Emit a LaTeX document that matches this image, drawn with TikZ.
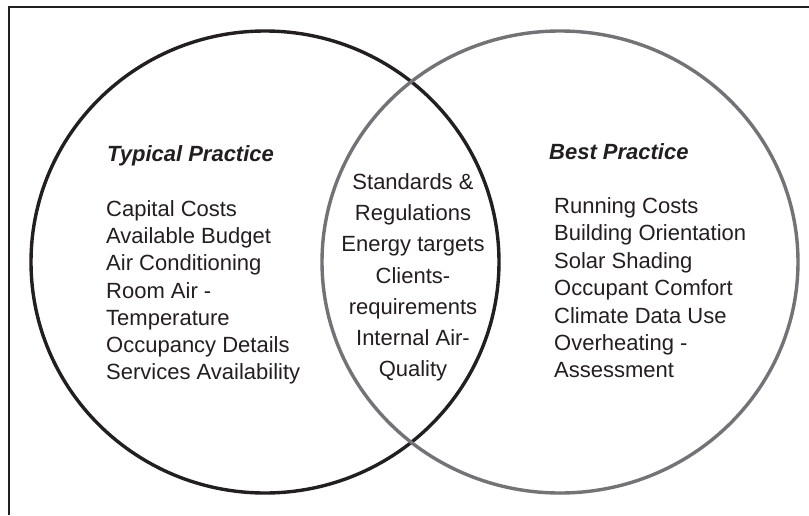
\documentclass[tikz,border=0pt]{standalone}
\usepackage{fontspec}
\setmainfont{Liberation Sans}
\definecolor{ink}{HTML}{231F20}
\definecolor{ringgray}{HTML}{737275}
\begin{document}
\begin{tikzpicture}[x=1pt,y=-1pt,
  txt/.style={inner sep=0pt, text=ink, font=\fontsize{22}{26}\selectfont},
  head/.style={txt, font=\fontsize{22}{26}\selectfont\bfseries\itshape},
  ring/.style={line width=3.4pt}]
\useasboundingbox (0,0) rectangle (809,515);
\fill[white] (0,0) rectangle (809,515);
% frame
\draw[ink, line width=2.2pt] (9,515) -- (9,7) -- (809,7);
% circles
\draw[ring, ink] (265,262) ellipse [x radius=234, y radius=231];
\draw[ring, ringgray] (560,262) ellipse [x radius=238, y radius=231];
% left block
\node[head, anchor=base west] (th) at (107,161.7) {Typical Practice};
\foreach \t [count=\i from 0] in {Capital Costs,Available Budget,Air Conditioning,Room Air -,Temperature,Occupancy Details,Services Availability}
  \node[txt, anchor=base west] (l\i) at (106,216.7+27.1*\i) {\t};
% middle block
\foreach \t [count=\i from 0] in {Standards \&,Regulations,Energy targets,Clients-,requirements,Internal Air-,Quality}
  \node[txt, anchor=base] (m\i) at (413,189.4+31.2*\i) {\t};
% right block
\node[head, anchor=base west] (bh) at (549,159.4) {Best Practice};
\foreach \t [count=\i from 0] in {Running Costs,Building Orientation,Solar Shading,Occupant Comfort,Climate Data Use,Overheating -,Assessment}
  \node[txt, anchor=base west] (r\i) at (554,213.4+27.4*\i) {\t};
\end{tikzpicture}
\end{document}
